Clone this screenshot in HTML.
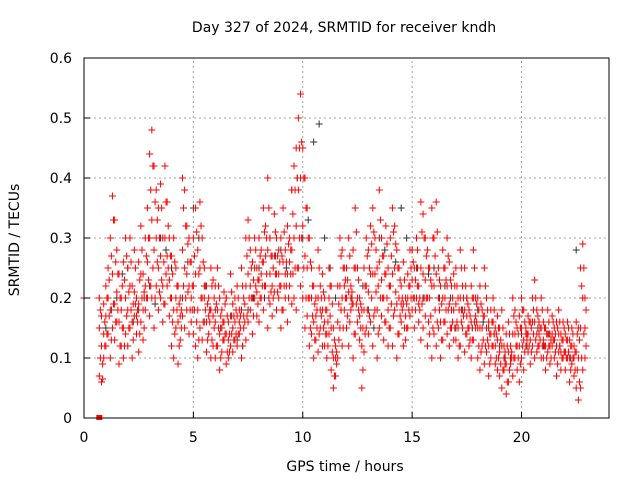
<!DOCTYPE html>
<html><head><meta charset="utf-8"><style>
body{margin:0;background:#fff}
svg{display:block;font-family:"DejaVu Sans","Liberation Sans",sans-serif}
</style></head><body>
<svg id="c" width="640" height="480" xmlns="http://www.w3.org/2000/svg">
<text x="344" y="32" font-size="14" text-anchor="middle" fill="#000">Day 327 of 2024, SRMTID for receiver kndh</text>
<text x="345" y="471" font-size="14" text-anchor="middle">GPS time / hours</text>
<text transform="translate(19,240) rotate(-90)" font-size="14" text-anchor="middle">SRMTID / TECUs</text>
<g id="grid"></g><g id="marks"></g><g id="axes"></g>
</svg>
<script>
const xTicks=[0,5,10,15,20];
const yTicks=[0,0.1,0.2,0.3,0.4,0.5,0.6];
const yTickLabels=["0","0.1","0.2","0.3","0.4","0.5","0.6"];
const startT=0.7, stepT=0.1, startT2=0.75;
const redHi=[.2,.17,.19,
.22,.25,.3,.37,.33,.28,.24,.2,.26,.3,
.25,.3,.22,.28,.2,.26,.32,.24,.3,.35,
.44,.48,.42,.38,.35,.39,.3,.42,.36,.3,
.27,.3,.25,.22,.2,.4,.38,.32,.3,.26,
.3,.35,.28,.36,.3,.25,.22,.2,.25,.23,
.22,.25,.2,.18,.21,.2,.16,.24,.19,.2,
.22,.18,.25,.2,.3,.33,.28,.26,.3,.25,
.3,.28,.35,.32,.4,.3,.27,.34,.3,.28,
.3,.35,.28,.32,.3,.38,.42,.45,.5,.54,
.45,.4,.35,.3,.25,.22,.2,.28,.22,.24,
.2,.18,.25,.22,.15,.12,.22,.3,.28,.25,
.25,.3,.22,.28,.35,.25,.2,.18,.25,.3,
.28,.32,.35,.3,.25,.38,.3,.27,.32,.25,
.3,.35,.32,.28,.25,.22,.26,.2,.24,.28,
.28,.25,.3,.22,.36,.34,.3,.28,.25,.35,
.3,.36,.25,.22,.28,.25,.3,.26,.22,.24,
.25,.2,.28,.22,.25,.2,.18,.22,.28,.2,
.2,.22,.18,.25,.2,.16,.18,.2,.15,.17,
.15,.18,.12,.14,.16,.12,.2,.18,.15,.17,
.2,.18,.15,.17,.16,.2,.23,.18,.16,.2,
.16,.15,.18,.14,.17,.15,.16,.18,.14,.16,
.14,.16,.13,.15,.12,.16,.15,.25,.29,.2];
const redLo=[.07,.06,.1,
.12,.14,.1,.15,.13,.16,.09,.12,.1,.14,
.12,.15,.1,.17,.14,.11,.16,.13,.18,.2,
.17,.2,.15,.22,.18,.2,.16,.19,.22,.17,
.12,.1,.15,.09,.13,.17,.15,.18,.14,.16,
.14,.12,.1,.15,.13,.16,.11,.14,.1,.12,
.1,.12,.08,.11,.13,.09,.1,.12,.11,.13,
.12,.14,.1,.15,.13,.16,.18,.14,.2,.17,
.16,.2,.18,.22,.15,.19,.17,.21,.18,.2,
.15,.18,.2,.16,.22,.19,.2,.18,.25,.22,
.2,.15,.17,.12,.14,.1,.13,.11,.15,.12,
.12,.1,.14,.08,.05,.07,.1,.15,.12,.18,
.15,.12,.18,.1,.14,.16,.13,.05,.11,.15,
.14,.16,.12,.18,.1,.15,.17,.13,.16,.12,
.15,.12,.18,.1,.14,.16,.12,.13,.15,.17,
.18,.15,.2,.16,.13,.15,.17,.12,.14,.1,
.14,.12,.15,.1,.13,.16,.14,.12,.15,.13,
.13,.1,.12,.15,.11,.14,.12,.1,.13,.15,
.1,.08,.12,.09,.11,.07,.1,.12,.09,.08,
.07,.05,.08,.04,.06,.09,.07,.1,.08,.06,
.1,.08,.12,.11,.09,.12,.1,.11,.12,.1,
.1,.08,.11,.09,.12,.1,.07,.11,.08,.1,
.08,.1,.06,.09,.07,.05,.03,.05,.08,.1];
const redMid=[.15,.12,.14,
.17,.2,.18,.24,.19,.21,.16,.18,.15,.2,
.18,.22,.16,.21,.17,.19,.24,.18,.22,.26,
.3,.33,.28,.3,.25,.27,.22,.3,.27,.23,
.2,.18,.2,.16,.17,.28,.25,.24,.22,.2,
.22,.24,.18,.25,.2,.2,.16,.17,.18,.17,
.16,.18,.14,.15,.16,.14,.13,.17,.15,.16,
.17,.16,.18,.17,.22,.24,.22,.2,.25,.21,
.23,.24,.26,.27,.28,.24,.22,.27,.24,.24,
.22,.26,.24,.24,.26,.28,.3,.32,.38,.4,
.32,.27,.25,.2,.2,.16,.17,.2,.18,.18,
.16,.14,.2,.15,.1,.1,.16,.22,.2,.22,
.2,.21,.2,.19,.25,.2,.17,.12,.18,.22,
.21,.24,.24,.24,.18,.26,.23,.2,.24,.18,
.22,.24,.25,.19,.2,.19,.19,.17,.2,.22,
.23,.2,.25,.19,.25,.24,.23,.2,.2,.22,
.22,.24,.2,.16,.2,.2,.22,.19,.18,.18,
.19,.15,.2,.18,.18,.17,.15,.16,.2,.17,
.15,.15,.15,.17,.15,.12,.14,.16,.12,.13,
.11,.12,.1,.09,.11,.1,.14,.14,.12,.12,
.15,.13,.14,.14,.13,.16,.16,.14,.14,.15,
.13,.12,.14,.12,.14,.13,.12,.14,.11,.13,
.11,.13,.1,.12,.1,.11,.1,.15,.2,.15];
const redA=[.18,.09,.16,
.2,.23,.27,.33,.26,.24,.2,.22,.23,.27,
.21,.26,.19,.25,.18,.23,.28,.21,.27,.3,
.38,.42,.36,.33,.3,.35,.26,.36,.32,.27,
.24,.26,.22,.19,.18,.35,.32,.29,.26,.22,
.27,.31,.24,.32,.26,.22,.19,.18,.22,.2,
.19,.22,.17,.16,.19,.17,.14,.21,.17,.18,
.2,.17,.22,.19,.27,.3,.25,.23,.28,.23,
.27,.26,.31,.3,.35,.27,.25,.31,.27,.26,
.27,.31,.26,.29,.28,.34,.38,.4,.45,.46,
.4,.35,.3,.26,.22,.19,.18,.25,.2,.21,
.18,.16,.22,.19,.13,.11,.19,.27,.25,.23,
.23,.27,.21,.25,.31,.23,.19,.15,.22,.27,
.25,.29,.31,.28,.22,.33,.27,.24,.29,.22,
.27,.31,.29,.25,.23,.2,.23,.19,.22,.25,
.26,.23,.28,.2,.31,.3,.27,.25,.23,.3,
.27,.31,.23,.19,.25,.23,.27,.23,.2,.22,
.22,.18,.25,.2,.22,.19,.17,.2,.25,.19,
.18,.19,.17,.22,.18,.14,.16,.18,.14,.15,
.13,.15,.11,.12,.14,.11,.17,.16,.14,.15,
.18,.16,.14,.16,.15,.18,.2,.17,.15,.18,
.15,.14,.16,.13,.16,.14,.15,.16,.13,.15,
.13,.15,.12,.14,.11,.14,.13,.22,.25,.18];
const redB=[.1,.065,.12,
.14,.17,.13,.19,.16,.18,.12,.15,.12,.17,
.15,.18,.13,.19,.16,.14,.2,.15,.2,.23,
.22,.25,.2,.26,.21,.23,.19,.24,.25,.2,
.16,.14,.18,.12,.15,.22,.2,.21,.18,.18,
.18,.16,.13,.2,.16,.18,.13,.16,.13,.15,
.12,.15,.1,.13,.14,.11,.11,.14,.13,.14,
.14,.15,.12,.16,.17,.2,.2,.17,.22,.19,
.2,.22,.22,.24,.2,.21,.2,.24,.21,.22,
.18,.22,.22,.2,.24,.24,.25,.25,.3,.3,
.25,.2,.2,.15,.17,.13,.15,.14,.17,.15,
.14,.12,.17,.11,.07,.09,.13,.18,.15,.2,
.17,.16,.19,.14,.19,.18,.15,.08,.14,.18,
.17,.2,.17,.21,.14,.2,.2,.16,.2,.15,
.19,.17,.21,.14,.17,.18,.15,.15,.18,.2,
.2,.18,.22,.18,.19,.2,.2,.16,.17,.15,
.18,.16,.18,.13,.16,.18,.18,.15,.16,.15,
.16,.12,.16,.17,.14,.15,.13,.13,.16,.16,
.12,.11,.13,.12,.13,.09,.12,.14,.1,.1,
.09,.08,.09,.06,.08,.1,.1,.12,.1,.09,
.12,.11,.13,.12,.11,.14,.13,.12,.13,.12,
.12,.1,.12,.1,.13,.11,.09,.12,.1,.11,
.1,.11,.08,.1,.08,.08,.06,.1,.14,.12];
const grayStart=1.0, grayStep=0.25;
const grayVals=[.15,.18,.2,.24,.25,.16,.18,.2,.22,.19,.3,.28,.25,.22,.2,.26,.35,.3,.22,.18,
.18,.15,.2,.17,.13,.12,.18,.2,.25,.2,.3,.27,.28,.25,.38,.4,.3,.33,.46,.49,
.3,.25,.2,.18,.15,.2,.25,.22,.18,.15,.3,.28,.22,.26,.35,.3,.28,.25,.2,.24,
.25,.2,.22,.2,.15,.18,.2,.15,.18,.16,.15,.14,.12,.1,.1,.12,.14,.12,.16,.15,
.12,.14,.13,.12,.11,.1,.28];
const extraT=[0.0,0.7];
const extraV=[0.2,0.0];

const X0=84,X1=609,Y0=418,Y1=58;
const xs=t=>X0+t/24*(X1-X0);
const ys=v=>Y0-v/0.6*(Y0-Y1);
const NS="http://www.w3.org/2000/svg";
function mk(tag,p,parent){const e=document.createElementNS(NS,tag);for(const k in p)e.setAttribute(k,p[k]);parent.appendChild(e);return e;}
const grid=document.getElementById('grid'),marks=document.getElementById('marks'),axes=document.getElementById('axes');
xTicks.forEach(t=>{
 if(t>0){const g=mk('line',{x1:xs(t),x2:xs(t),y1:Y0,y2:Y1,stroke:'#a0a0a0','stroke-dasharray':'2,3'},grid);
 
 }
 const tk=mk('line',{x1:xs(t),x2:xs(t),y1:Y0,y2:Y0-6,stroke:'#000'},axes);
 
 
 const l=mk('text',{x:xs(t),y:Y0+24,'font-size':14,'text-anchor':'middle'},axes);l.textContent=t;
 
 
});
yTicks.forEach((v,i)=>{
 if(v>0&&v<0.6){const g=mk('line',{x1:X0,x2:X1,y1:ys(v),y2:ys(v),stroke:'#a0a0a0','stroke-dasharray':'2,3'},grid);
 
 }
 const tk=mk('line',{x1:X0,x2:X0+6,y1:ys(v),y2:ys(v),stroke:'#000'},axes);
 
 
 const l=mk('text',{x:X0-12,y:ys(v)+5,'font-size':14,'text-anchor':'end'},axes);l.textContent=yTickLabels[i];
 
 
});
const fr=mk('rect',{x:X0,y:Y1,width:X1-X0,height:Y0-Y1,fill:'none',stroke:'#000'},axes);


function plus(t,v,col,name){
 const x=xs(t),y=ys(v);
 const p=mk('path',{d:`M${x-3.5},${y}h7M${x},${y-3.5}v7`,stroke:col,'stroke-width':1,fill:'none'},marks);
 
 
}
grayVals.forEach((v,i)=>plus(grayStart+i*grayStep,v,'#333','gray-point'));
[redHi,redLo,redMid].forEach(arr=>arr.forEach((v,i)=>plus(startT+i*stepT,v,'#f00','red-point')));
[redA,redB].forEach(arr=>arr.forEach((v,i)=>plus(startT2+i*stepT,v,'#f00','red-point')));
extraT.forEach((t,i)=>{
 if(extraV[i]===0){const r=mk('rect',{x:xs(t)-3,y:ys(0)-3,width:6,height:5,fill:'#f00'},marks);
 
 }
 else plus(t,extraV[i],'#f00','red-point');
});
</script>
</body></html>
